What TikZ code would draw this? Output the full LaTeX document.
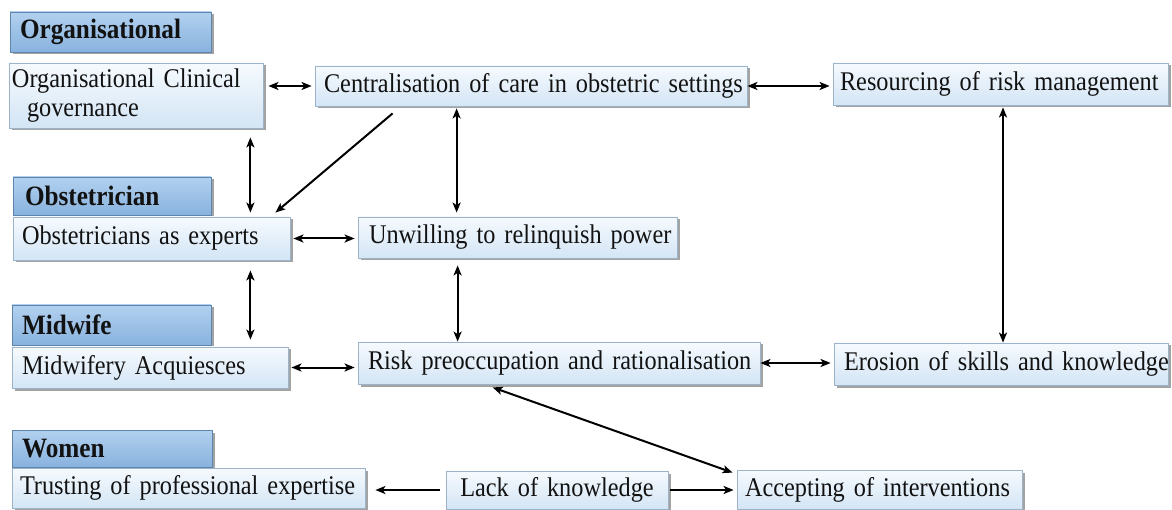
\documentclass[tikz,border=0pt]{standalone}
\usepackage{fontspec}
\setmainfont[FakeStretch=0.9,WordSpace=0.72]{Liberation Serif}
\usetikzlibrary{arrows.meta,shadows}

\definecolor{cellTop}{HTML}{F6FAFE}
\definecolor{cellBot}{HTML}{D3E5F5}
\definecolor{cellLine}{HTML}{9DB3C8}
\definecolor{headTop}{HTML}{B2D1EF}
\definecolor{headBot}{HTML}{88B2DE}
\definecolor{headLine}{HTML}{5E85AC}
\definecolor{inkText}{HTML}{121212}

\tikzset{
  cell/.style={draw=cellLine, line width=0.8pt, top color=cellTop, bottom color=cellBot,
    drop shadow={shadow xshift=2.5pt, shadow yshift=-2.5pt, fill=black!60, opacity=0.6},
    inner xsep=9pt, inner ysep=0pt, align=left, text=inkText,
    font=\fontsize{27}{29}\selectfont},
  head/.style={cell, draw=headLine, top color=headTop, bottom color=headBot,
    inner xsep=10pt, font=\fontsize{28}{29}\selectfont\bfseries},
  tip/.tip={Stealth[length=10pt,width=8pt,inset=2.5pt]},
  link/.style={line width=2pt, -tip},
  twoway/.style={line width=2pt, tip-tip}
}

\begin{document}
\begin{tikzpicture}[x=1pt,y=-1pt]
  \fill[white] (0,0) rectangle (1172,510);
  \useasboundingbox (0,0) rectangle (1172,510);

  % level: organisational
  \node[head, minimum width=201pt, minimum height=40pt, text width=181pt] (orgH) at (110.5,32) {\mbox{Organisational}};
  \node[cell, inner xsep=3pt, minimum width=254pt, minimum height=65pt, text width=248pt] (orggov) at (136,95.5)
    {\mbox{Organisational Clinical}\\\hspace*{15pt}\mbox{governance}};
  \node[cell, minimum width=432pt, minimum height=40pt, text width=414pt] (cent) at (531,86)
    {\mbox{Centralisation of care in obstetric settings}};
  \node[cell, inner xsep=7pt, minimum width=335pt, minimum height=42pt, text width=321pt] (res) at (1000.5,84)
    {\mbox{Resourcing of risk management}};

  % level: obstetrician
  \node[head, inner xsep=12pt, minimum width=198pt, minimum height=38pt, text width=174pt] (obsH) at (112,196) {\mbox{Obstetrician}};
  \node[cell, minimum width=277pt, minimum height=43pt, text width=259pt] (obsexp) at (151.5,238.5)
    {\mbox{Obstetricians as experts}};
  \node[cell, inner xsep=11pt, minimum width=319pt, minimum height=41pt, text width=297pt] (unw) at (517.5,237.5)
    {\mbox{Unwilling to relinquish power}};

  % level: midwife
  \node[head, minimum width=199pt, minimum height=40pt, text width=179pt] (midH) at (111.5,325) {\mbox{Midwife}};
  \node[cell, inner xsep=10pt, minimum width=276pt, minimum height=41pt, text width=256pt] (midacq) at (150,367.5)
    {\mbox{Midwifery Acquiesces}};
  \node[cell, inner xsep=10pt, minimum width=402pt, minimum height=42pt, text width=382pt] (risk) at (559,363)
    {\mbox{Risk preoccupation and rationalisation}};
  \node[cell, inner xsep=10pt, minimum width=334pt, minimum height=42pt, text width=314pt] (ero) at (1001,364)
    {\mbox{Erosion of skills and knowledge}};

  % level: women
  \node[head, minimum width=200pt, minimum height=37pt, text width=180pt] (womH) at (112,448.5) {\mbox{Women}};
  \node[cell, inner xsep=8pt, minimum width=353pt, minimum height=40pt, text width=337pt] (trust) at (188.5,488)
    {\mbox{Trusting of professional expertise}};
  \node[cell, inner xsep=13pt, align=center, minimum width=222pt, minimum height=38pt, text width=196pt] (lack) at (557,490)
    {\mbox{Lack of knowledge}};
  \node[cell, inner xsep=8pt, minimum width=285pt, minimum height=39pt, text width=269pt] (acc) at (879.5,489.5)
    {\mbox{Accepting of interventions}};

  % vertical lanes for the up-down connectors
  \coordinate (laneA) at ([xshift=-13pt]orggov.south east);
  \coordinate (laneB) at ([xshift=142pt]cent.south west);
  \coordinate (laneC) at ([xshift=-40pt]obsexp.south east);
  \coordinate (laneD) at ([xshift=100pt]unw.south west);
  \coordinate (laneE) at ([xshift=2.5pt]res.south);

  % connectors
  \draw[twoway, shorten <=5pt, shorten >=3pt] (orggov.east |- cent.west) -- (cent.west);
  \draw[twoway, shorten >=3pt] (cent.east) -- (res.west |- cent.east);
  \draw[twoway, shorten <=9pt, shorten >=4pt] (laneA) -- (laneA |- obsexp.north);
  \draw[link] ([xshift=78pt,yshift=-7pt]cent.south west) -- ([xshift=-15pt,yshift=4pt]obsexp.north east);
  \draw[twoway, shorten <=2pt, shorten >=4pt] (laneB) -- (laneB |- unw.north);
  \draw[twoway, shorten <=3pt, shorten >=3pt] (obsexp.east) -- (unw.west |- obsexp.east);
  \draw[twoway, shorten <=10pt, shorten >=7pt] (laneC) -- (laneC |- midacq.north);
  \draw[twoway, shorten <=7pt] (laneD) -- (laneD |- risk.north);
  \draw[twoway, shorten <=3pt, shorten >=3pt] (midacq.east) -- (risk.west |- midacq.east);
  \draw[twoway, shorten >=3pt] (risk.east) -- (ero.west |- risk.east);
  \draw[twoway, shorten <=2pt] (laneE) -- (laneE |- ero.north);
  \draw[twoway] ([xshift=135pt,yshift=-3pt]risk.south west) -- ([xshift=-4pt,yshift=-3pt]acc.north west);
  \draw[link, shorten <=2pt, shorten >=3pt] (lack.east) -- (acc.west |- lack.east);
  \draw[link, shorten <=6pt, shorten >=10pt] (lack.west) -- (trust.east |- lack.west);
\end{tikzpicture}
\end{document}
